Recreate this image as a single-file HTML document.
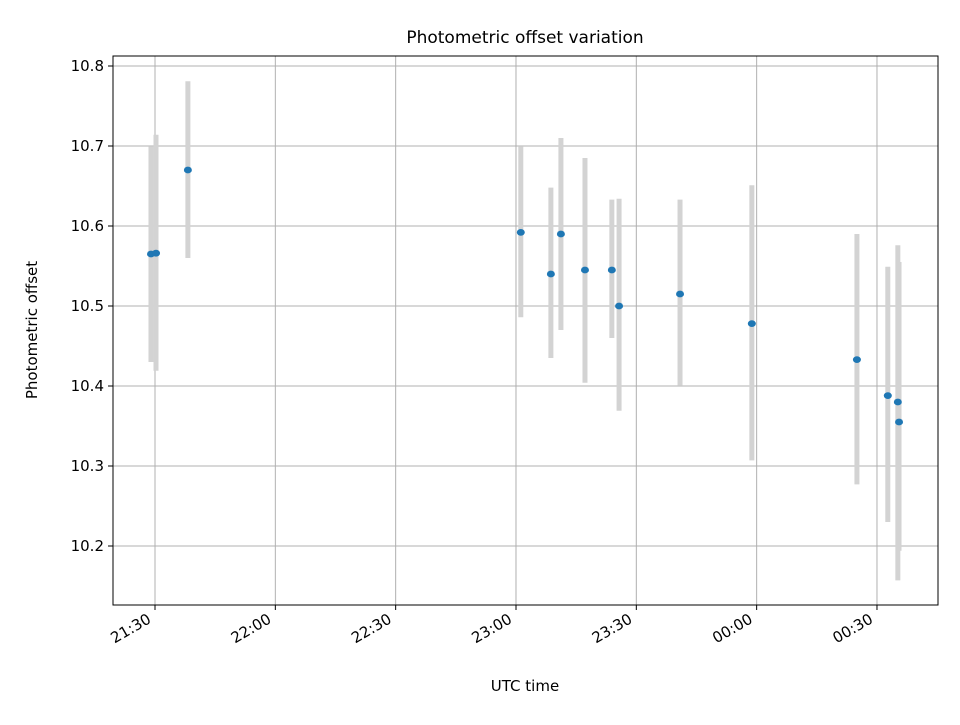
<!DOCTYPE html>
<html><head><meta charset="utf-8"><style>body{margin:0;background:#fff}svg text{font-family:"DejaVu Sans","Liberation Sans",sans-serif;fill:#000}</style></head>
<body>
<svg id="c" width="960" height="720"></svg>
<script>
const times=[-1,0.25,8.2,91.2,98.7,101.2,107.2,113.9,115.7,130.9,148.8,175,182.7,185.2,185.5];
const values=[10.565,10.566,10.67,10.592,10.54,10.59,10.545,10.545,10.50,10.515,10.478,10.433,10.388,10.38,10.355];
const errLow=[10.43,10.419,10.56,10.486,10.435,10.47,10.404,10.46,10.369,10.401,10.307,10.277,10.23,10.157,10.194];
const errHigh=[10.699,10.714,10.781,10.699,10.648,10.71,10.685,10.633,10.634,10.633,10.651,10.59,10.549,10.576,10.555];
const xTicks=[0,30,60,90,120,150,180];
const xTickLabels=["21:30","22:00","22:30","23:00","23:30","00:00","00:30"];
const yTicks=[10.2,10.3,10.4,10.5,10.6,10.7,10.8];
const L=113,R=938,T=56,B=605;
const X=m=>155+m*(120.33/30);
const Y=v=>546-(v-10.2)*800;
const s=document.getElementById('c');const NS="http://www.w3.org/2000/svg";
function el(t,a,p){const e=document.createElementNS(NS,t);for(const k in a)e.setAttribute(k,a[k]);(p||s).appendChild(e);return e;}
let t=el('text',{x:525,y:43,'font-size':17,'text-anchor':'middle'});t.textContent="Photometric offset variation";


xTicks.forEach((m,i)=>{const x=X(m);
let g=el('line',{x1:x,x2:x,y1:T,y2:B,stroke:'#b0b0b0','stroke-width':1});


el('line',{x1:x,x2:x,y1:B,y2:B+5,stroke:'#000'});
let l=el('text',{x:x-3,y:B+17,'font-size':15,'text-anchor':'end',transform:`rotate(-30 ${x-3} ${B+17})`});l.textContent=xTickLabels[i];

});
yTicks.forEach(v=>{const y=Y(v);
let g=el('line',{x1:L,x2:R,y1:y,y2:y,stroke:'#b0b0b0','stroke-width':1});


el('line',{x1:L-5,x2:L,y1:y,y2:y,stroke:'#000'});
let l=el('text',{x:L-9,y:y+5,'font-size':15,'text-anchor':'end'});l.textContent=v.toFixed(1);

});
times.forEach((m,i)=>{const x=X(m);
let e=el('line',{x1:x,x2:x,y1:Y(errLow[i]),y2:Y(errHigh[i]),stroke:'#d3d3d3','stroke-width':5});

});
times.forEach((m,i)=>{
let p=el('ellipse',{cx:X(m),cy:Y(values[i]),rx:4,ry:3.4,fill:'#1f77b4'});

});
let f=el('rect',{x:L,y:T,width:R-L,height:B-T,fill:'none',stroke:'#000','stroke-width':1});


let xt=el('text',{x:525,y:691,'font-size':15,'text-anchor':'middle'});xt.textContent="UTC time";


let yt=el('text',{x:37,y:330,'font-size':15,'text-anchor':'middle',transform:'rotate(-90 37 330)'});yt.textContent="Photometric offset";


</script>
</body></html>
